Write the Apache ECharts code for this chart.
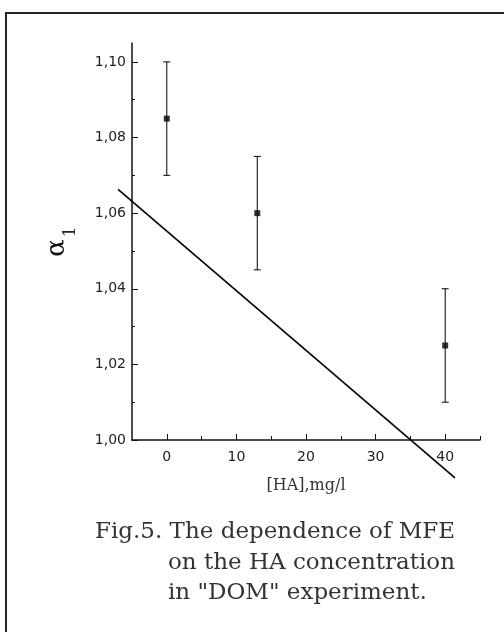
<!DOCTYPE html>
<html lang="en">
<head>
    <meta charset="utf-8" />
    <title>Fig.5</title>
    <script src="https://cdn.jsdelivr.net/npm/echarts@6/dist/echarts.min.js"></script>
    <style>
        html, body { margin: 0; padding: 0; background: #fff; }
    </style>
</head>
<body>
<div id="main" style="width: 504px;height:632px;"></div>
<script type="text/javascript">
    // measured points: HA concentration, alpha_1 and error half-width
    var haConc = [0, 13, 40];
    var alpha = [1.085, 1.06, 1.025];
    var alphaErr = [0.015, 0.015, 0.015];
    // straight line, read at its two ends (it runs past the axes)
    var fitX = [-7, 41.4];
    var fitY = [1.0663, 0.990];
    // tick values
    var xMajor = [0, 10, 20, 30, 40];
    var xMinor = [5, 15, 25, 35, 45];
    var yMajor = [1.00, 1.02, 1.04, 1.06, 1.08, 1.10];
    var yMinor = [1.01, 1.03, 1.05, 1.07, 1.09];
    var caption = ['Fig.5. The dependence of MFE', 'on the HA concentration', 'in "DOM" experiment.'];

    var myChart = echarts.init(document.getElementById('main'), null, {renderer: 'canvas'});

    var pts = haConc.map(function (x, i) { return [x, alpha[i], alphaErr[i]]; });
    var fitData = [[fitX[0], fitY[0], fitX[1], fitY[1]]];

    var labelFont = 'DejaVu Sans';
    var serifFont = 'DejaVu Serif';
    var captionFont = '23px "DejaVu Serif"';

    var option = {
        animation: false,
        grid: { left: 132, top: 43, right: 24, bottom: 192 },
        xAxis: [{
            type: 'value',
            min: -5,
            max: 45,
            splitLine: { show: false },
            axisLine: { onZero: false, lineStyle: { color: '#111', width: 1.5 } },
            axisTick: { inside: true, length: 6, customValues: xMajor, lineStyle: { color: '#111' } },
            axisLabel: { customValues: xMajor, margin: 10, color: '#222', fontFamily: labelFont, fontSize: 14 },
            name: '[HA],mg/l',
            nameLocation: 'middle',
            nameGap: 38,
            nameTextStyle: { fontFamily: serifFont, fontSize: 16, color: '#333' }
        }, {
            type: 'value',
            min: -5,
            max: 45,
            position: 'bottom',
            splitLine: { show: false },
            axisLine: { show: false, onZero: false },
            axisTick: { inside: true, length: 4, customValues: xMinor, lineStyle: { color: '#111' } },
            axisLabel: { show: false }
        }],
        yAxis: [{
            type: 'value',
            min: 1.00,
            max: 1.105,
            splitLine: { show: false },
            axisLine: { show: true, onZero: false, lineStyle: { color: '#111', width: 1.5 } },
            axisTick: { show: true, inside: true, length: 6, customValues: yMajor, lineStyle: { color: '#111' } },
            axisLabel: {
                customValues: yMajor,
                margin: 6,
                color: '#222',
                fontFamily: labelFont,
                fontSize: 14,
                formatter: function (v) { return v.toFixed(2).replace('.', ','); }
            },
            name: '{a|α}{s|1}',
            nameLocation: 'middle',
            nameRotate: 90,
            nameGap: 62,
            nameTextStyle: {
                rich: {
                    a: { fontFamily: serifFont, fontSize: 26, lineHeight: 26, verticalAlign: 'top', color: '#111' },
                    s: { fontFamily: serifFont, fontSize: 17, lineHeight: 17, verticalAlign: 'top', color: '#222', padding: [18, 0, 0, 2] }
                }
            }
        }, {
            type: 'value',
            min: 1.00,
            max: 1.105,
            position: 'left',
            splitLine: { show: false },
            axisLine: { show: false, onZero: false },
            axisTick: { show: true, inside: true, length: 3, customValues: yMinor, lineStyle: { color: '#111' } },
            axisLabel: { show: false }
        }],
        graphic: [
            { type: 'line', shape: { x1: 5, y1: 13, x2: 504, y2: 13 }, style: { stroke: '#222', lineWidth: 2 } },
            { type: 'line', shape: { x1: 6, y1: 12, x2: 6, y2: 632 }, style: { stroke: '#222', lineWidth: 2 } },
            { type: 'text', left: 95, top: 521, style: { text: caption[0], font: captionFont, fill: '#333' } },
            { type: 'text', left: 168, top: 552, style: { text: caption[1], font: captionFont, fill: '#333' } },
            { type: 'text', left: 168, top: 582, style: { text: caption[2], font: captionFont, fill: '#333' } }
        ],
        series: [
            {
                // fitted line, drawn through the axes so it may run past them
                type: 'custom',
                data: fitData,
                clip: false,
                renderItem: function (params, api) {
                    var a = api.coord([api.value(0), api.value(1)]);
                    var b = api.coord([api.value(2), api.value(3)]);
                    return {
                        type: 'line',
                        shape: { x1: a[0], y1: a[1], x2: b[0], y2: b[1] },
                        style: { stroke: '#000', lineWidth: 1.6 }
                    };
                }
            },
            {
                type: 'custom',
                data: pts,
                renderItem: function (params, api) {
                    var x = api.value(0), y = api.value(1), e = api.value(2);
                    var hi = api.coord([x, y + e]);
                    var lo = api.coord([x, y - e]);
                    var c = 3.5;
                    var st = { stroke: '#000', lineWidth: 1 };
                    return {
                        type: 'group',
                        children: [
                            { type: 'line', shape: { x1: hi[0], y1: hi[1], x2: lo[0], y2: lo[1] }, style: st },
                            { type: 'line', shape: { x1: hi[0] - c, y1: hi[1], x2: hi[0] + c, y2: hi[1] }, style: st },
                            { type: 'line', shape: { x1: lo[0] - c, y1: lo[1], x2: lo[0] + c, y2: lo[1] }, style: st }
                        ]
                    };
                }
            },
            {
                type: 'scatter',
                data: pts.map(function (p) { return [p[0], p[1]]; }),
                symbol: 'rect',
                symbolSize: 6,
                itemStyle: { color: '#000' }
            }
        ]
    };
    myChart.setOption(option);
</script>
</body>
</html>
